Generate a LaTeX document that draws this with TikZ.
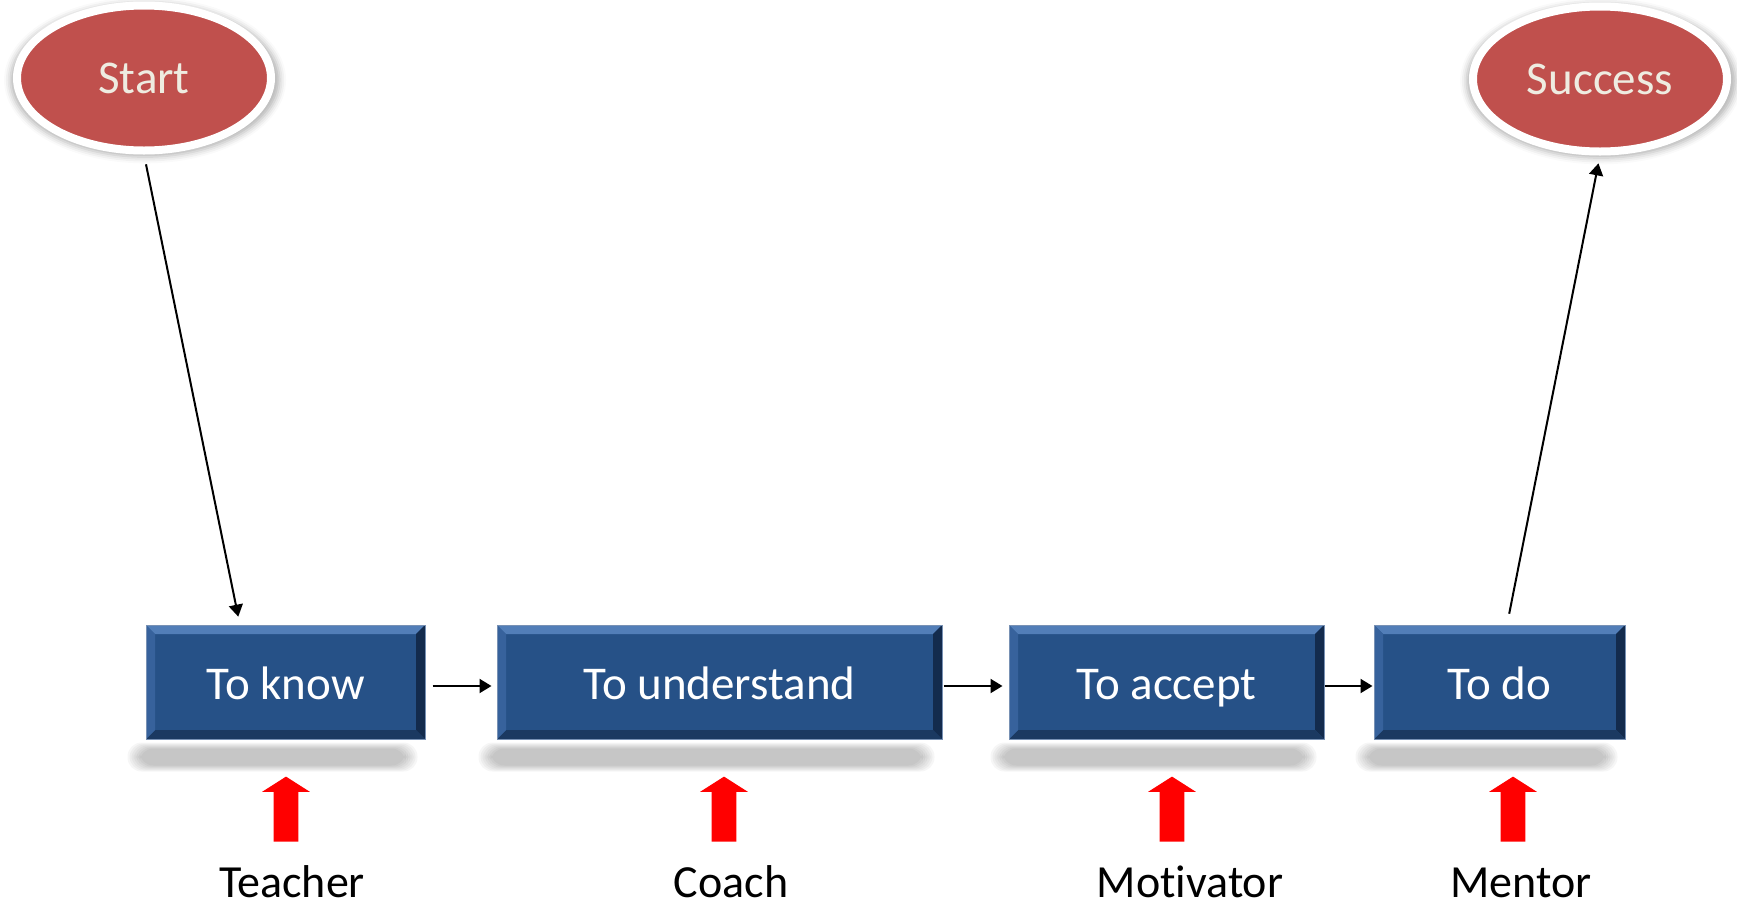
\documentclass[tikz,border=0pt]{standalone}
\usepackage{fontspec}
\setmainfont{Carlito}[Ligatures={NoCommon}]
\usetikzlibrary{arrows.meta}
\usetikzlibrary{shapes.geometric}
\usetikzlibrary{shapes.arrows}
\usetikzlibrary{shadows.blur}
\usetikzlibrary{calc}
\tikzset{>={Triangle[length=6pt,width=7pt]}}
\definecolor{boxblue}{RGB}{38,81,135}
\definecolor{bevtop}{RGB}{82,126,184}
\definecolor{bevleft}{RGB}{55,98,156}
\definecolor{bevright}{RGB}{19,43,77}
\definecolor{bevbot}{RGB}{27,57,97}
\definecolor{bevline}{RGB}{120,145,180}
\definecolor{goalred}{RGB}{192,80,77}
\definecolor{goaltext}{RGB}{238,236,225}
\newcommand\stageshadow[1]{%
  \foreach \k in {0,...,6}
    \fill[black, opacity=0.035, rounded corners=7pt]
      ($(#1.south west)+(-18+2*\k,3+\k)$) rectangle ($(#1.south east)+(-8-2*\k,32-\k)$);}

\begin{document}
\begin{tikzpicture}[x=0.5pt, y=-0.5pt,
    goal/.style={ellipse, draw=white, line width=4pt, fill=goalred, text=goaltext,
      inner sep=0pt, minimum width=127pt, minimum height=72.5pt,
      font=\fontsize{23.5}{28}\selectfont,
      blur shadow={shadow xshift=0.5pt, shadow yshift=-1pt, shadow scale=1.06,
        shadow blur radius=3pt, shadow opacity=30}},
    stage/.style={rectangle, draw=bevline, line width=0.5pt, fill=boxblue, text=white,
      inner sep=0pt, minimum height=57pt, text height=17pt, text depth=0pt,
      font=\fontsize{23.5}{28}\selectfont,
      path picture={
        \path (path picture bounding box.north west) coordinate (pa)
              (path picture bounding box.north east) coordinate (pb)
              (path picture bounding box.south east) coordinate (pc)
              (path picture bounding box.south west) coordinate (pd);
        \fill[bevtop] (pa) -- (pb) -- ([shift={(-4.5pt,-4.5pt)}]pb) -- ([shift={(4.5pt,-4.5pt)}]pa) -- cycle;
        \fill[bevright] (pb) -- (pc) -- ([shift={(-4.5pt,4.5pt)}]pc) -- ([shift={(-4.5pt,-4.5pt)}]pb) -- cycle;
        \fill[bevbot] (pc) -- (pd) -- ([shift={(4.5pt,4.5pt)}]pd) -- ([shift={(-4.5pt,4.5pt)}]pc) -- cycle;
        \fill[bevleft] (pd) -- (pa) -- ([shift={(4.5pt,-4.5pt)}]pa) -- ([shift={(4.5pt,4.5pt)}]pd) -- cycle;
      }},
    flow/.style={->, line width=1pt},
    push/.style={single arrow, fill=red, draw=none, rotate=90, anchor=tail,
      inner xsep=0pt, inner ysep=6pt, minimum height=32.5pt,
      single arrow head extend=5.75pt, single arrow tip angle=115},
    role/.style={anchor=base, inner sep=1pt, font=\fontsize{23}{28}\selectfont}]
  \useasboundingbox (0,0) rectangle (1737,906);

  % goals
  \node[goal] (start) at (144,78) {Start};
  \node[goal] (success) at (1600,79) {Success};

  % stages
  \node[stage, minimum width=139.5pt] (know) at (285.5,682) {To know};
  \node[stage, minimum width=222.5pt] (understand) at (719.5,682) {To understand};
  \node[stage, minimum width=157.5pt] (accept) at (1166.5,682) {To accept};
  \node[stage, minimum width=125.5pt] (do) at (1499.5,682) {To do};
  \stageshadow{know}
  \stageshadow{understand}
  \stageshadow{accept}
  \stageshadow{do}

  % lines
  \coordinate (knowin) at ($(know.north west)!0.337!(know.north east)$);
  \coordinate (doout) at ($(do.north west)!0.53!(do.north east)$);
  \draw[flow, shorten <=5pt, shorten >=4pt] (start.south) -- (knowin);
  \draw[flow, shorten <=5.5pt, shorten >=4pt] (doout) -- (success.south);
  \draw[flow, shorten <=3.5pt, shorten >=2.5pt] ([yshift=-2pt]know.east) -- ([yshift=-2pt]understand.west);
  \draw[flow, shorten <=0.5pt, shorten >=3pt] ([yshift=-2pt]understand.east) -- ([yshift=-2pt]accept.west);
  \draw[flow, shorten >=0.5pt] ([yshift=-2pt]accept.east) -- ([yshift=-2pt]do.west);

  % roles
  \node[push] (pteacher) at (286,842) {};
  \node[push] (pcoach) at (724,842) {};
  \node[push] (pmotivator) at (1172,842) {};
  \node[push] (pmentor) at (1513,842) {};
  \node[role] (teacher) at (292,897) {Teacher};
  \node[role] (coach) at (731,897) {Coach};
  \node[role] (motivator) at (1190,897) {Motivator};
  \node[role] (mentor) at (1521,897) {Mentor};
\end{tikzpicture}
\end{document}
